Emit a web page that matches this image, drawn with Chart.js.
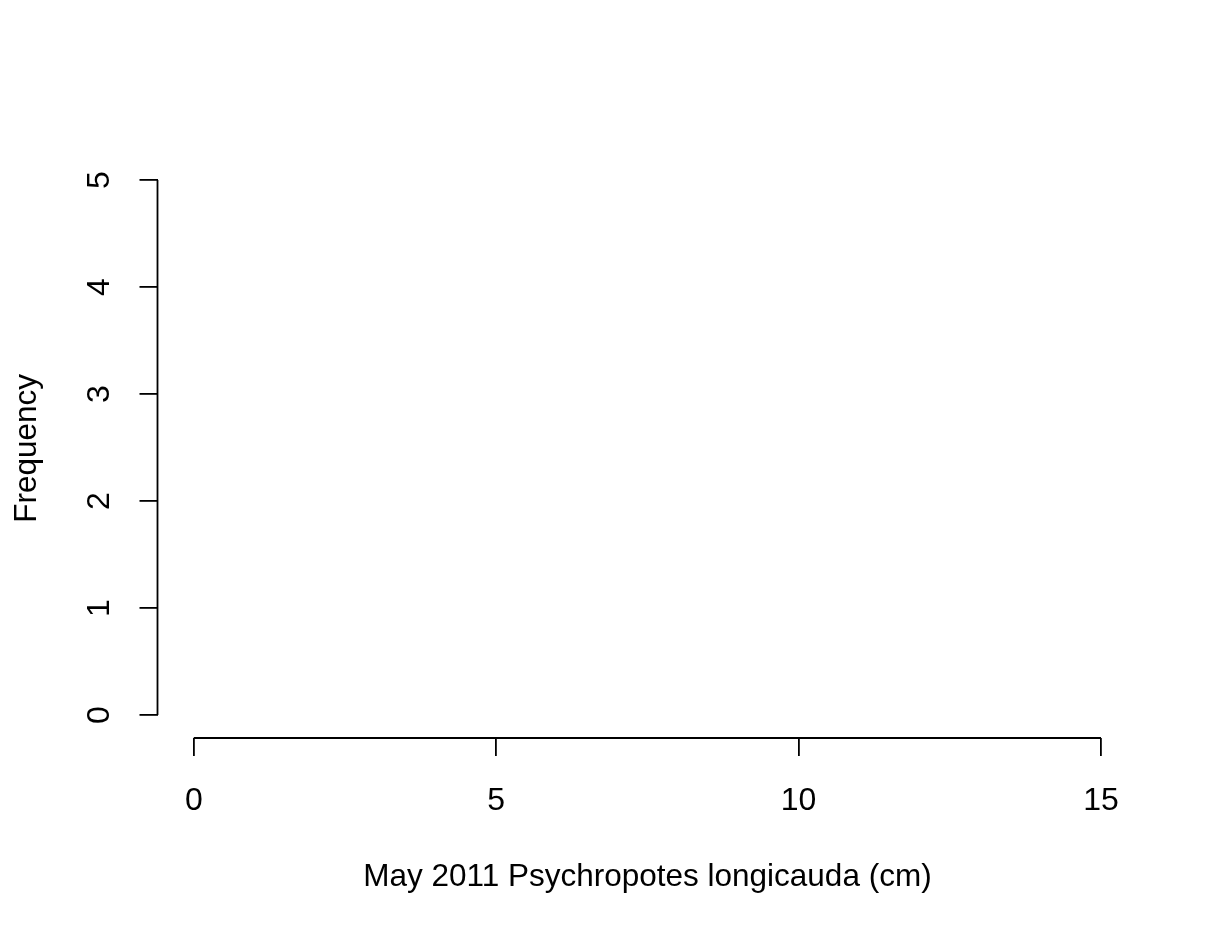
<!DOCTYPE html>
<html>
<head>
<meta charset="utf-8">
<script src="https://cdn.jsdelivr.net/npm/chart.js@4.4.0/dist/chart.umd.min.js"></script>
<style>
  html, body { margin: 0; padding: 0; background: #fff; }
  #wrap { width: 1220px; height: 934px; }
</style>
</head>
<body>
<div id="wrap"><canvas id="hist"></canvas></div>
<script>
// histogram of an empty sample: no bars, only axes
const xTicks = [0, 5, 10, 15];
const yTicks = [0, 1, 2, 3, 4, 5];
const binEdges = [];      // no observations in this month
const binCounts = [];
const xTitle = "May 2011 Psychropotes longicauda (cm)";
const yTitle = "Frequency";

const FONT = "'Liberation Sans', Arial, sans-serif";

// R-style axis line: only from first to last tick
const rAxisLines = {
    id: "rAxisLines",
    afterDraw(chart) {
        const ctx = chart.ctx;
        const xs = chart.scales.x, ys = chart.scales.y;
        ctx.save();
        ctx.strokeStyle = "#000";
        ctx.lineWidth = 1.8;
        ctx.beginPath();
        ctx.moveTo(xs.getPixelForValue(xTicks[0]), xs.top);
        ctx.lineTo(xs.getPixelForValue(xTicks[xTicks.length - 1]), xs.top);
        ctx.moveTo(ys.right, ys.getPixelForValue(yTicks[0]));
        ctx.lineTo(ys.right, ys.getPixelForValue(yTicks[yTicks.length - 1]));
        ctx.stroke();
        ctx.restore();
    },
};

const bars = binCounts.map((c, i) => ({ x: (binEdges[i] + binEdges[i + 1]) / 2, y: c }));

new Chart(document.getElementById("hist"), {
    type: "bar",
    data: {
        datasets: [
            {
                label: "count",
                data: bars,
                backgroundColor: "#fff",
                borderColor: "#000",
                borderWidth: 1,
            },
        ],
    },
    options: {
        responsive: true,
        maintainAspectRatio: false,
        animation: false,
        layout: { padding: { top: 158.6, right: 82.7, left: 0, bottom: 0 } },
        plugins: {
            legend: { display: false },
            tooltip: { enabled: false },
        },
        scales: {
            x: {
                type: "linear",
                min: -0.6,
                max: 15.6,
                offset: false,
                afterBuildTicks: (s) => { s.ticks = xTicks.map((v) => ({ value: v })); },
                afterFit: (s) => { s.height = 196; },
                grid: { offset: false, drawOnChartArea: false, drawTicks: true, tickLength: 18, tickColor: "#000", lineWidth: 1.8 },
                border: { display: false },
                ticks: {
                    color: "#000",
                    font: { family: FONT, size: 32 },
                    padding: 26,
                    maxRotation: 0,
                    minRotation: 0,
                },
                title: {
                    display: true,
                    text: xTitle,
                    color: "#000",
                    font: { family: FONT, size: 31.5 },
                    padding: { top: 0, bottom: 38 },
                },
            },
            y: {
                type: "linear",
                min: -0.215,
                max: 5.2,
                afterBuildTicks: (s) => { s.ticks = yTicks.map((v) => ({ value: v })); },
                afterFit: (s) => { s.width = 157.5; },
                grid: { drawOnChartArea: false, drawTicks: true, tickLength: 18, tickColor: "#000", lineWidth: 1.8 },
                border: { display: false },
                ticks: {
                    color: "#000",
                    font: { family: FONT, size: 32 },
                    padding: 30,
                    minRotation: 90,
                    maxRotation: 90,
                    crossAlign: "center",
                },
                title: {
                    display: true,
                    text: yTitle,
                    color: "#000",
                    font: { family: FONT, size: 31.5 },
                    padding: { top: 8, bottom: 0 },
                },
            },
        },
    },
    plugins: [rAxisLines],
});
</script>
</body>
</html>
